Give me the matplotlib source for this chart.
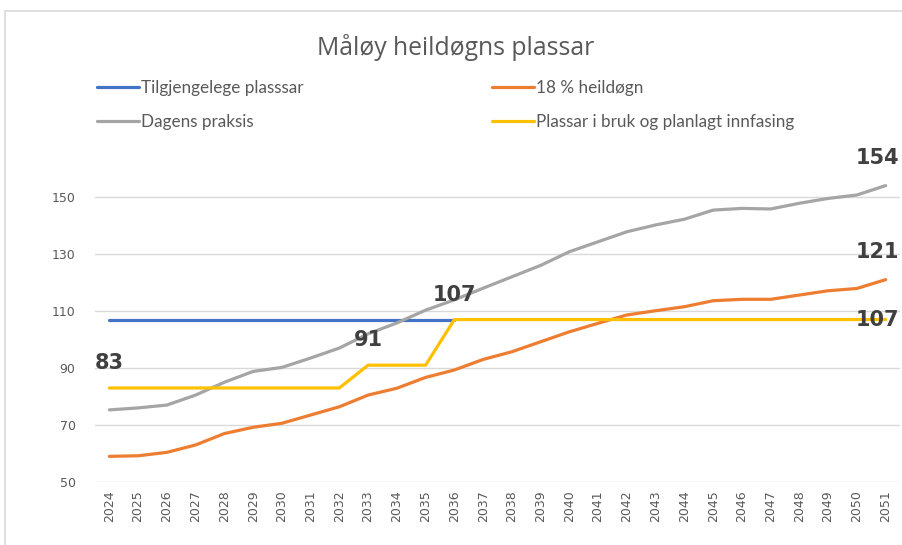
import numpy as np
import matplotlib.pyplot as plt
from matplotlib.patches import Rectangle

years = list(range(2024, 2052))
tilgjengelege = [107] * 13  # 2024-2036
heildogn = [59, 59.2, 60.4, 63, 67, 69.2, 70.6, 73.5, 76.4, 80.5, 82.9, 86.7, 89.3, 93,
            95.7, 99.2, 102.7, 105.7, 108.6, 110.1, 111.5, 113.6, 114.1, 114.1, 115.6,
            117.1, 117.9, 121]
dagens = [75.3, 76, 77, 80.5, 85, 88.8, 90.2, 93.5, 97, 102, 105.8, 110.3, 113.9, 118,
          122, 126, 130.8, 134.3, 137.8, 140.2, 142.2, 145.4, 146, 145.8, 147.8, 149.5,
          150.7, 154]
i_bruk = [83] * 9 + [91] * 3 + [107] * 16

# (x index, value, text, offset in points)
labels = [(0, 83, "83", 0, 18), (9, 91, "91", 0, 18), (12, 107, "107", 0, 18),
          (27, 154, "154", -6, 20), (27, 121, "121", -6, 20), (27, 107, "107", -6, 0)]

W, H = 902, 545
fig = plt.figure(figsize=(W / 100, H / 100), dpi=100)
fig.patches.append(Rectangle((5 / W, -0.1), 1.2, 1.1 - 11 / H,
                             transform=fig.transFigure, fill=False,
                             edgecolor="#d9d9d9", linewidth=1.2))

ax = fig.add_axes([95 / W, 1 - 482 / H, 805 / W, (482 - 168.5) / H])
x = np.arange(len(years))

l1, = ax.plot(x[:len(tilgjengelege)], tilgjengelege, color="#4472C4", lw=2.3,
              solid_capstyle="round", label="Tilgjengelege plasssar")
l2, = ax.plot(x, heildogn, color="#ED7D31", lw=2.3, solid_capstyle="round",
              label="18 % heildøgn")
l3, = ax.plot(x, dagens, color="#A5A5A5", lw=2.3, solid_capstyle="round",
              label="Dagens praksis")
l4, = ax.plot(x, i_bruk, color="#FFC000", lw=2.3, solid_capstyle="round",
              label="Plassar i bruk og planlagt innfasing")

for xi, v, t, dx, dy in labels:
    ax.annotate(t, (xi, v), xytext=(dx, dy), textcoords="offset points",
                ha="center", va="center", fontsize=15, fontweight="bold",
                color="#404040", family="DejaVu Sans", annotation_clip=False)

ax.set_xlim(-0.5, len(years) - 0.5)
ax.set_ylim(50, 160)
ax.set_yticks(range(50, 151, 20))
ax.set_xticks(x)
ax.set_xticklabels([str(y) for y in years], rotation=90)
ax.tick_params(axis="both", length=0, labelsize=9, colors="#595959")
ax.tick_params(axis="y", pad=14)
ax.tick_params(axis="x", pad=6)
ax.grid(axis="y", color="#d9d9d9", lw=1)
ax.set_axisbelow(True)
for s in ax.spines.values():
    s.set_visible(False)

fig.text(456 / W, 1 - 47 / H, "Måløy heildøgns plassar", ha="center", va="center",
         fontsize=17.8, color="#595959", family="Open Sans")

leg_kw = dict(frameon=False, loc="upper left", borderpad=0, borderaxespad=0,
              handlelength=2.45, handletextpad=0.12, labelspacing=1.05,
              prop={"family": "Lato", "size": 12.3}, labelcolor="#595959")
leg1 = fig.legend([l1, l3], [l1.get_label(), l3.get_label()],
                  bbox_to_anchor=(97 / W, 1 - 80 / H), **leg_kw)
leg2 = fig.legend([l2, l4], [l2.get_label(), l4.get_label()],
                  bbox_to_anchor=(492 / W, 1 - 80 / H), **leg_kw)

fig.savefig("out.png", dpi=100)
